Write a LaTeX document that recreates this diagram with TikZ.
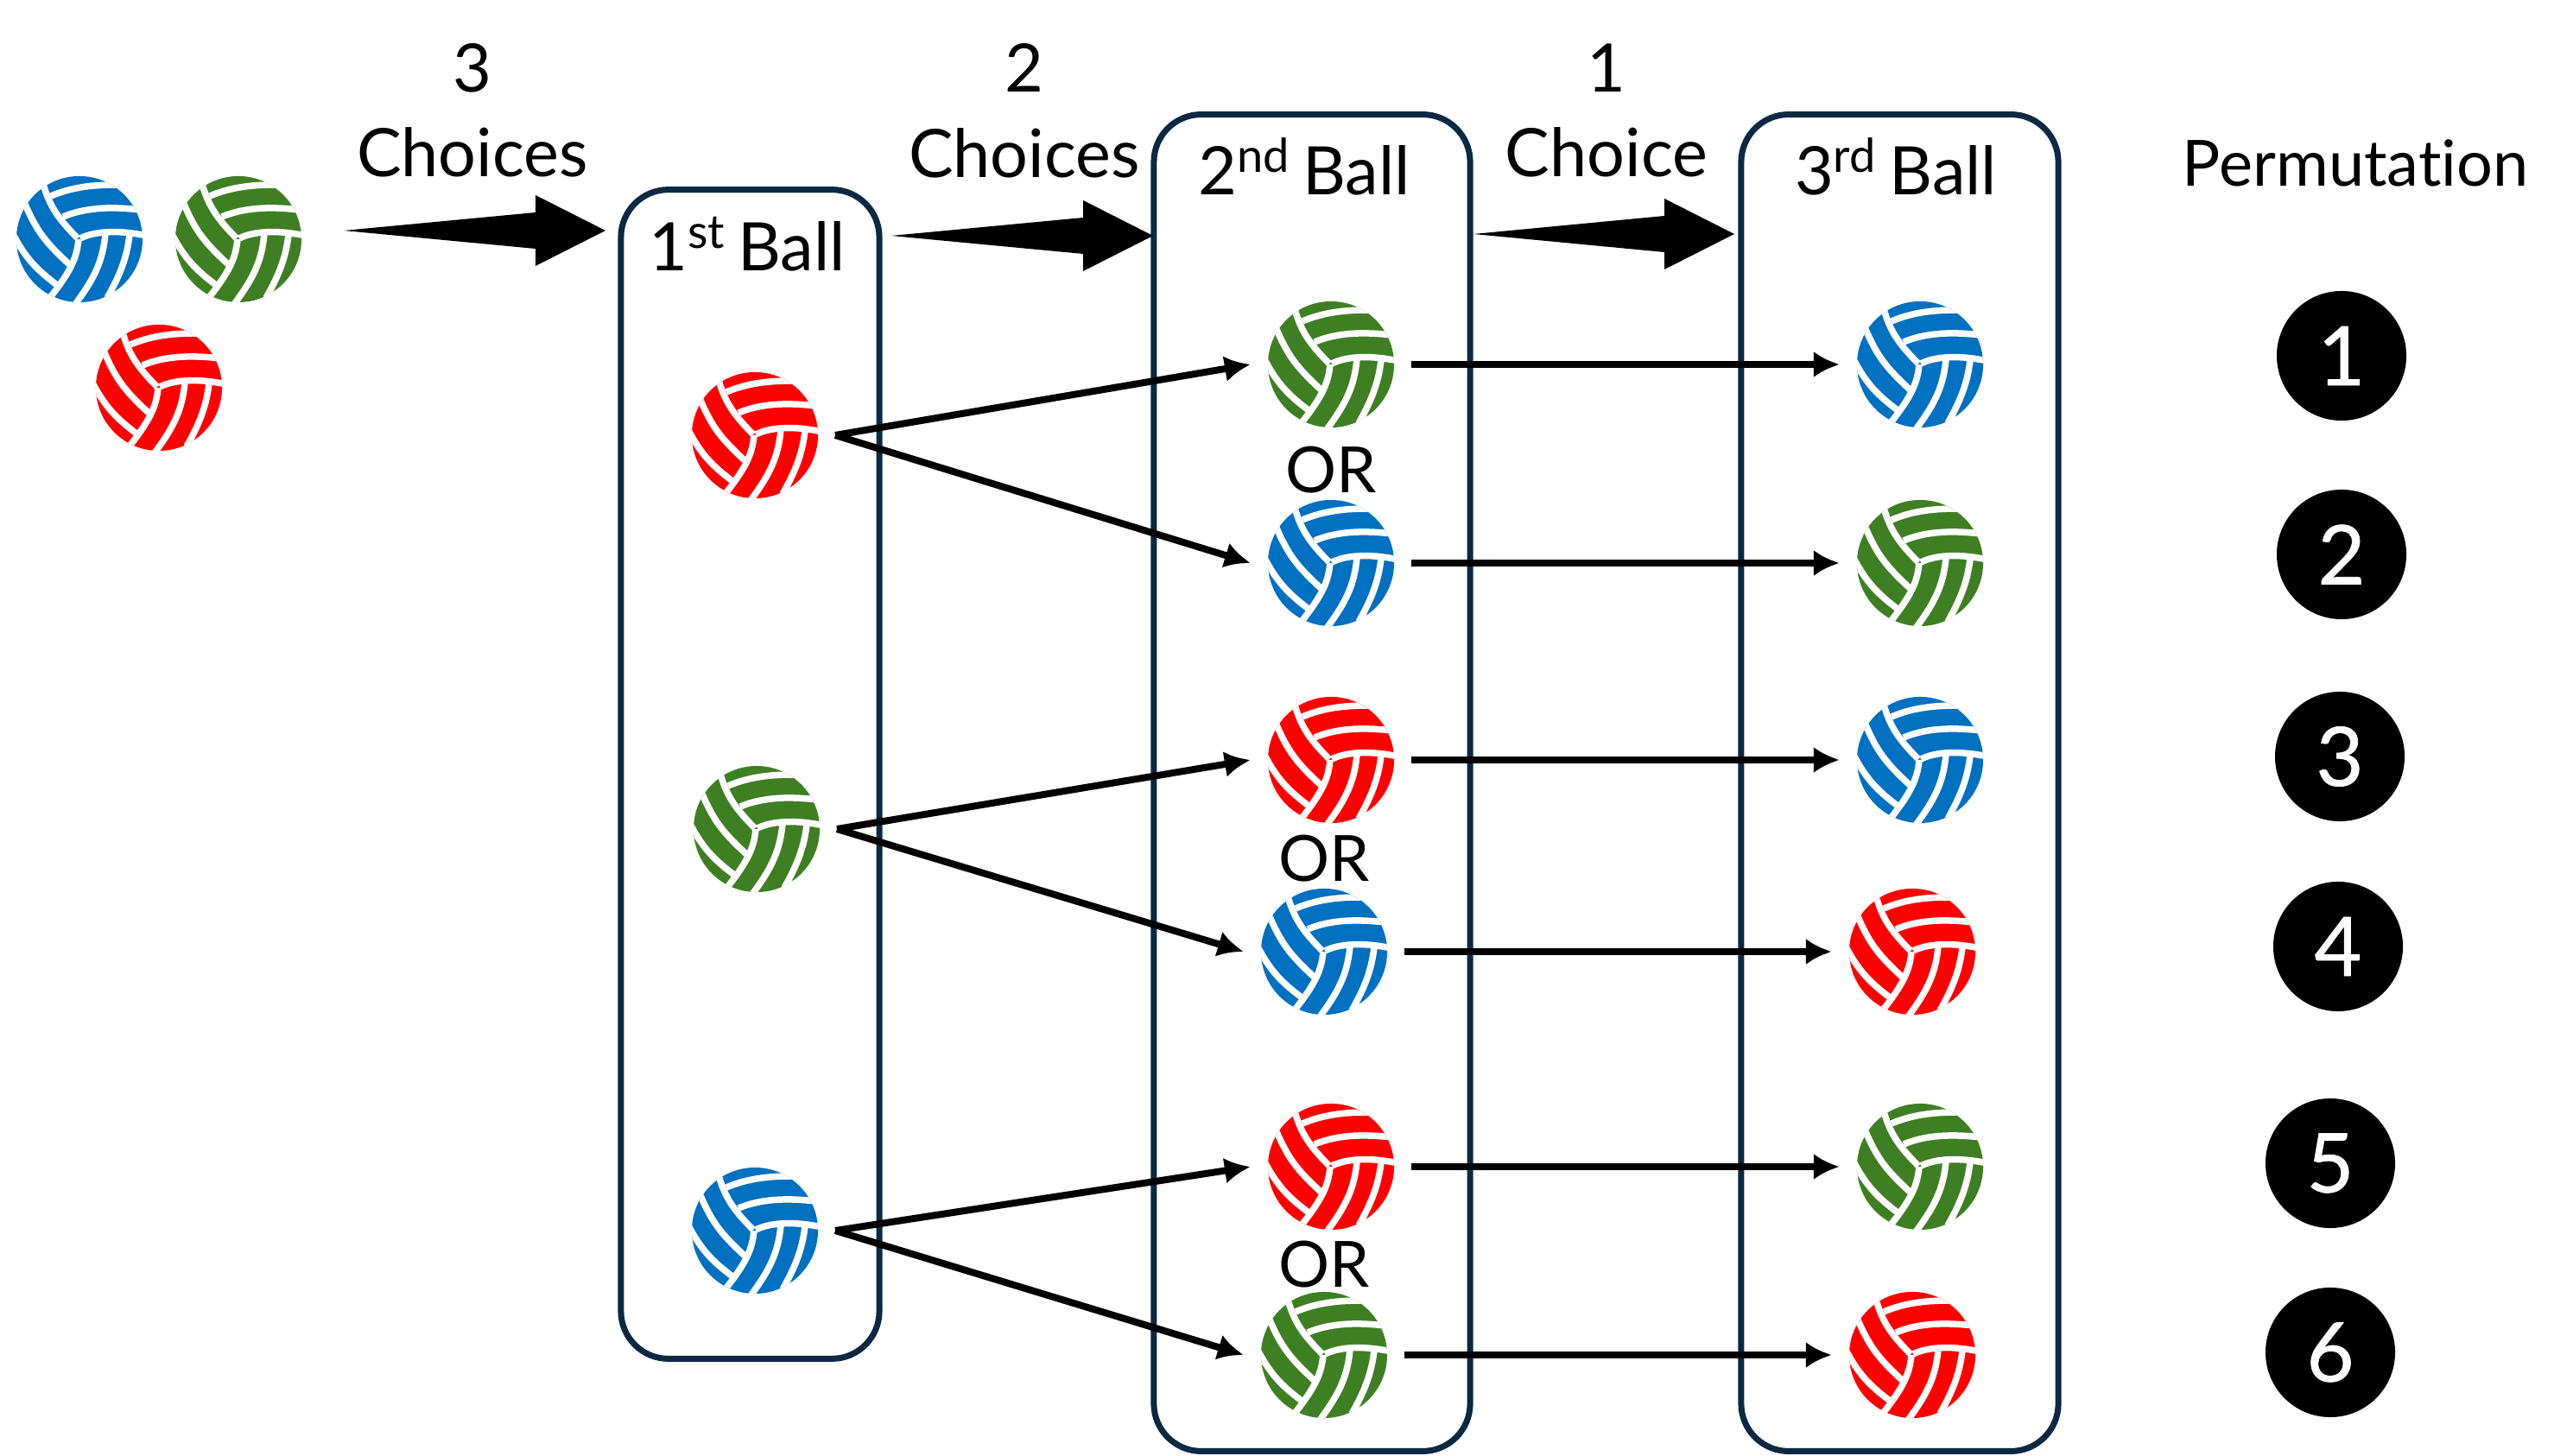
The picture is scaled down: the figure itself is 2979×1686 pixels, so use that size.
\documentclass[tikz,border=0pt]{standalone}
\usepackage{fontspec}
\setmainfont{Lato}[Ligatures=NoCommon,WordSpace=0.7]
\newfontfamily\permfont{Lato}[FakeBold=0.8]
\usetikzlibrary{arrows.meta,calc}

\definecolor{boxline}{HTML}{0E2841}
\definecolor{ballblue}{HTML}{0070C0}
\definecolor{ballgreen}{HTML}{3F7F24}
\definecolor{ballred}{HTML}{FF0000}

\tikzset{
  stripe/.style={draw=white,line width=0.075cm,line cap=butt},
  ball/.style={circle,inner sep=0pt,minimum size=1.46cm,fill=#1,outer sep=0.2cm,
    path picture={
      \draw[stripe] (-33,-50) .. controls (-10,-60) and (20,-65) .. (60,-62);
      \draw[stripe] (-19,-26) .. controls (5,-36) and (35,-39) .. (78,-33);
      \draw[stripe] (1,-1) .. controls (15,-8) and (40,-12) .. (78,-4);
      \draw[stripe] (-43,-68) .. controls (-36,-40) and (-25,-24) .. (-2,-1);
      \draw[stripe] (-64,-43) .. controls (-50,-10) and (-40,3) .. (-12,29);
      \draw[stripe] (-76,-4) .. controls (-62,22) and (-50,35) .. (-26,53);
      \draw[stripe] (-1,0) .. controls (-3,20) and (-8,35) .. (-36,70);
      \draw[stripe] (30,-6) .. controls (27,25) and (18,45) .. (-7,78);
      \draw[stripe] (58,-5) .. controls (55,20) and (48,40) .. (32,68);
      \fill[white] (26,69) -- (43,59) -- (60,72) -- (34,84) -- cycle;
    }},
  ballbox/.style={draw=boxline,line width=0.07cm,rounded corners=0.55cm,minimum width=#1},
  conn/.style={draw=black,line width=0.08cm,-{Latex[length=0.3cm,width=0.3cm]}},
  label/.style={anchor=base,font=\fontsize{22}{27}\selectfont},
  smalllabel/.style={anchor=base,font=\fontsize{21}{26}\selectfont},
  permnum/.style={circle,fill=black,text=white,inner sep=0pt,minimum size=1.5cm,
    font=\fontsize{27}{32}\selectfont\permfont},
}

\newcommand{\choicearrow}[2]{
  \fill[black] (#2) -- ++(-81,-41) -- ++(0,20) -- (#1) -- ($(#2)+(-81,21)$) -- ++(0,20) -- cycle;
}

\begin{document}
\begin{tikzpicture}[x=0.01cm,y=-0.01cm]
\useasboundingbox (0,0) rectangle (2979,1686);

\node[ballbox=2.99cm,minimum height=13.53cm] (box1) at (868.5,896.5) {};
\node[ballbox=3.66cm,minimum height=15.47cm] (box2) at (1519,906.5) {};
\node[ballbox=3.67cm,minimum height=15.47cm] (box3) at (2199.5,906.5) {};

% pool of balls
\node[ball=ballblue] (poolblue) at (92,277) {};
\node[ball=ballgreen] (poolgreen) at (276,277) {};
\node[ball=ballred] (poolred) at (184,449) {};

% first ball
\node[ball=ballred] (first1) at (874,504) {};
\node[ball=ballgreen] (first2) at (876,960) {};
\node[ball=ballblue] (first3) at (874,1425) {};

% second ball
\node[ball=ballgreen] (second1) at (1541,422) {};
\node[ball=ballblue] (second2) at (1541,652) {};
\node[ball=ballred] (second3) at (1541,880) {};
\node[ball=ballblue] (second4) at (1533,1102) {};
\node[ball=ballred] (second5) at (1541,1351) {};
\node[ball=ballgreen] (second6) at (1533,1569) {};

% third ball
\node[ball=ballblue] (third1) at (2223,422) {};
\node[ball=ballgreen] (third2) at (2223,652) {};
\node[ball=ballblue] (third3) at (2223,880) {};
\node[ball=ballred] (third4) at (2214,1102) {};
\node[ball=ballgreen] (third5) at (2223,1351) {};
\node[ball=ballred] (third6) at (2214,1569) {};

\draw[conn] (first1.east) -- (second1.west);
\draw[conn] (first1.east) -- (second2.west);
\draw[conn] (first2.east) -- (second3.west);
\draw[conn] (first2.east) -- (second4.west);
\draw[conn] (first3.east) -- (second5.west);
\draw[conn] (first3.east) -- (second6.west);

\draw[conn] (second1) -- (third1);
\draw[conn] (second2) -- (third2);
\draw[conn] (second3) -- (third3);
\draw[conn] (second4) -- (third4);
\draw[conn] (second5) -- (third5);
\draw[conn] (second6) -- (third6);

\coordinate (tail1) at (398,267);
\coordinate (tip1) at (701,267);
\coordinate (tail2) at (1032,273);
\coordinate (tip2) at (1335,273);
\coordinate (tail3) at (1706,271);
\coordinate (tip3) at (2008,271);
\choicearrow{tail1}{tip1}
\choicearrow{tail2}{tip2}
\choicearrow{tail3}{tip3}

\node[label] (count3) at (547,107) {3};
\node[label] (choices3) at (547,205) {Choices};
\node[label] (count2) at (1186,107) {2};
\node[label] (choices2) at (1186,206) {Choices};
\node[label] (count1) at (1860,107) {1};
\node[label] (choices1) at (1860,205) {Choice};

\node[label] (head1) at (865,314) {1\textsuperscript{st} Ball};
\node[label] (head2) at (1510,226) {2\textsuperscript{nd} Ball};
\node[label] (head3) at (2195,226) {3\textsuperscript{rd} Ball};
\node[smalllabel] (permhead) at (2727,216) {Permutation};

\node[smalllabel] (or1) at (1541,571) {OR};
\node[smalllabel] (or2) at (1533,1021) {OR};
\node[smalllabel] (or3) at (1533,1490) {OR};

\node[permnum] (perm1) at (2711,412) {1};
\node[permnum] (perm2) at (2711,642) {2};
\node[permnum] (perm3) at (2709,876) {3};
\node[permnum] (perm4) at (2707,1096) {4};
\node[permnum] (perm5) at (2698,1347) {5};
\node[permnum] (perm6) at (2698,1566) {6};

\end{tikzpicture}
\end{document}
